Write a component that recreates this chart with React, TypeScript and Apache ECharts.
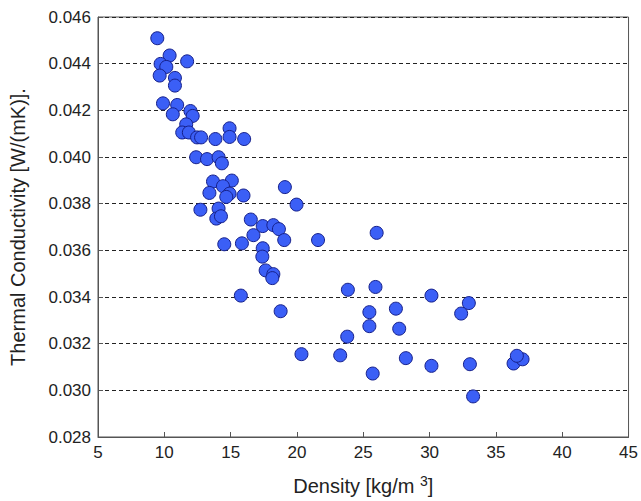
import React, { useEffect, useRef } from "react";
import * as echarts from "echarts";

const density: number[] = [
  9.47, 10.4, 11.72, 9.72, 10.15, 9.65, 10.8, 10.8, 9.9, 10.97,
  10.64, 11.97, 12.14, 11.65, 11.35, 11.85, 12.47, 12.77, 13.85, 14.92,
  14.92, 16.02, 12.4, 13.22, 14.09, 14.34, 13.67, 15.09, 14.42, 13.4,
  14.92, 14.67, 15.97, 19.09, 12.72, 14.09, 13.92, 14.27, 16.52, 17.42,
  18.22, 18.64, 19.97, 16.72, 15.85, 14.52, 17.42, 17.39, 19.04, 21.59,
  26.01, 17.64, 18.22, 18.14, 15.77, 18.77, 23.84, 25.92, 30.14, 25.46,
  27.46, 25.46, 27.71, 23.79, 20.34, 23.26, 28.21, 30.14, 25.71, 32.96,
  32.38, 33.04, 36.33, 37.01, 36.58, 33.28,
];

const conductivity: number[] = [
  0.04509, 0.04435, 0.0441, 0.04399, 0.04386, 0.04349, 0.04339, 0.04306, 0.0423, 0.04223,
  0.04183, 0.04197, 0.04176, 0.0414, 0.04105, 0.04105, 0.04084, 0.04084, 0.04077, 0.04123,
  0.04086, 0.04077, 0.03999, 0.03991, 0.03999, 0.03973, 0.03895, 0.03899, 0.03875, 0.03846,
  0.03843, 0.03829, 0.03835, 0.03871, 0.03774, 0.03779, 0.03736, 0.03746, 0.03732, 0.03704,
  0.03708, 0.03691, 0.03796, 0.03665, 0.0363, 0.03626, 0.03609, 0.03573, 0.03644, 0.03644,
  0.03675, 0.03514, 0.03498, 0.03481, 0.03406, 0.03339, 0.03431, 0.03443, 0.03406, 0.03335,
  0.0335, 0.03275, 0.03264, 0.0323, 0.03155, 0.0315, 0.03138, 0.03105, 0.03072, 0.03374,
  0.03329, 0.03112, 0.03115, 0.03133, 0.03148, 0.02974,
];

const xTicks = { min: 5, max: 45, interval: 5 };
const yTicks = { min: 0.028, max: 0.046, interval: 0.002 };

export default function App() {
  const ref = useRef<HTMLDivElement>(null);
  useEffect(() => {
    if (!ref.current) return;
    const chart = echarts.init(ref.current, undefined, { renderer: "svg" });
    const font = "Liberation Sans, Arial, sans-serif";
    chart.setOption({
      animation: false,
      backgroundColor: "#ffffff",
      grid: {
        left: 97,
        right: 10,
        top: 17,
        bottom: 61,
        show: true,
        borderColor: "#555",
        borderWidth: 1,
      },
      xAxis: {
        type: "value",
        min: xTicks.min,
        max: xTicks.max,
        interval: xTicks.interval,
        name: "{a|Density [kg/m }{b|3}{a|]}",
        nameLocation: "middle",
        nameGap: 37,
        nameTextStyle: {
          fontFamily: font,
          fontSize: 20,
          color: "#222",
          rich: {
            a: { fontFamily: font, fontSize: 20, color: "#222", lineHeight: 24 },
            b: { fontFamily: font, fontSize: 14, color: "#222", verticalAlign: "top", lineHeight: 14 },
          },
        },
        axisLine: { show: true, lineStyle: { color: "#555" } },
        axisTick: { show: true, inside: true, length: 5, lineStyle: { color: "#555" } },
        axisLabel: { fontFamily: font, fontSize: 17, color: "#222", margin: 7 },
        splitLine: { show: false },
      },
      yAxis: {
        type: "value",
        min: yTicks.min,
        max: yTicks.max,
        interval: yTicks.interval,
        name: "Thermal Conductivity [W/(mK)].",
        nameLocation: "middle",
        nameGap: 70,
        nameTextStyle: { fontFamily: font, fontSize: 20, color: "#222" },
        axisLine: { show: true, lineStyle: { color: "#555" } },
        axisTick: { show: true, inside: true, length: 5, lineStyle: { color: "#555" } },
        axisLabel: {
          fontFamily: font,
          fontSize: 17,
          color: "#222",
          margin: 7,
          formatter: (v: number) => v.toFixed(3),
        },
        splitLine: {
          show: true,
          lineStyle: { color: "#222", type: [4, 3], width: 1 },
        },
      },
      series: [
        {
          type: "scatter",
          data: density.map((d, i) => [d, conductivity[i]]),
          symbol: "circle",
          symbolSize: 13,
          itemStyle: {
            color: "#3b5ff6",
            borderColor: "#16208a",
            borderWidth: 1,
            opacity: 1,
          },
        },
      ],
    });
    return () => chart.dispose();
  }, []);
  return <div ref={ref} style={{ width: 641, height: 501, position: "absolute", left: 0, top: 0 }} />;
}
